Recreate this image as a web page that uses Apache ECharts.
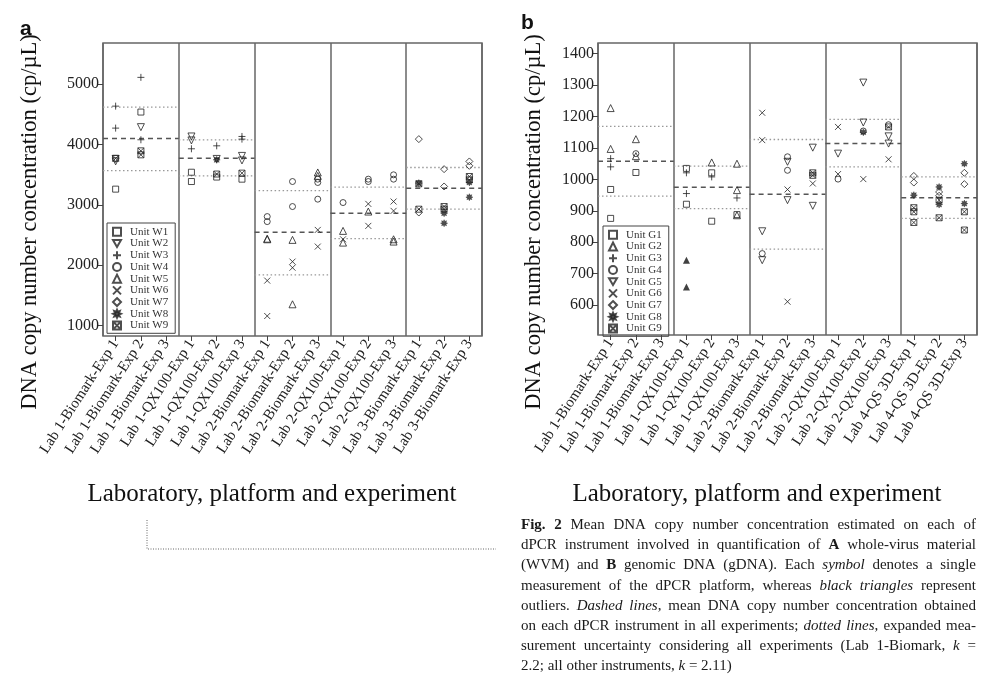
<!DOCTYPE html>
<html><head><meta charset="utf-8">
<script src="https://cdn.jsdelivr.net/npm/echarts@6/dist/echarts.min.js"></script>
<style>html,body{margin:0;padding:0;background:#fff}#c{width:994px;height:678px}</style>
</head><body><div id="c"></div>
<script>
// ---------------- DATA ----------------
const categoriesA = ['Lab 1-Biomark-Exp 1','Lab 1-Biomark-Exp 2','Lab 1-Biomark-Exp 3','Lab 1-QX100-Exp 1','Lab 1-QX100-Exp 2','Lab 1-QX100-Exp 3','Lab 2-Biomark-Exp 1','Lab 2-Biomark-Exp 2','Lab 2-Biomark-Exp 3','Lab 2-QX100-Exp 1','Lab 2-QX100-Exp 2','Lab 2-QX100-Exp 3','Lab 3-Biomark-Exp 1','Lab 3-Biomark-Exp 2','Lab 3-Biomark-Exp 3'];
const categoriesB = ['Lab 1-Biomark-Exp 1','Lab 1-Biomark-Exp 2','Lab 1-Biomark-Exp 3','Lab 1-QX100-Exp 1','Lab 1-QX100-Exp 2','Lab 1-QX100-Exp 3','Lab 2-Biomark-Exp 1','Lab 2-Biomark-Exp 2','Lab 2-Biomark-Exp 3','Lab 2-QX100-Exp 1','Lab 2-QX100-Exp 2','Lab 2-QX100-Exp 3','Lab 4-QS 3D-Exp 1','Lab 4-QS 3D-Exp 2','Lab 4-QS 3D-Exp 3'];
const yTicksA = [1000, 2000, 3000, 4000, 5000];
const yTicksB = [600, 700, 800, 900, 1000, 1100, 1200, 1300, 1400];

// panel a: [category index, copies/uL]
const unitW1 = [[0,3260],[1,4536],[3,3540],[3,3386],[4,3460],[5,3425]];
const unitW2 = [[0,3760],[0,3720],[1,4286],[3,4132],[3,4066],[4,3760],[5,3810],[5,3735]];
const unitW3 = [[0,4634],[0,4270],[1,5110],[1,4077],[3,3928],[4,3977],[5,4132],[5,4088]];
const unitW4 = [[6,2806],[6,2723],[7,3386],[7,2972],[8,3425],[8,3370],[8,3094],[9,3038],[10,3425],[10,3386],[11,3497],[11,3425]];
const unitW5 = [[6,2430],[6,2440],[7,2420],[7,1354],[8,3536],[8,3480],[9,2569],[9,2375],[10,2889],[11,2430],[11,2392]];
const unitW6 = [[6,1746],[6,1160],[7,2060],[7,1960],[8,2585],[8,2309],[9,2430],[10,3016],[10,2652],[11,3055],[11,2900]];
const unitW7 = [[12,4088],[12,2873],[13,3591],[13,3304],[14,3718],[14,3646]];
const unitW8 = [[4,3745],[12,3360],[13,2862],[13,2696],[14,3370],[14,3127]];
const unitW9 = [[0,3770],[1,3894],[1,3828],[4,3510],[5,3525],[12,3348],[12,2928],[13,2972],[13,2928],[14,3469],[14,3414]];
const meanA  = [4098, 3772, 2547, 2862, 3276];
const upperA = [4617, 4076, 3237, 3292, 3618];
const lowerA = [3568, 3480, 1840, 2442, 2928];

// panel b
const unitG1 = [[0,968],[0,876],[1,1022],[3,1035],[3,921],[4,1021],[4,867],[5,888]];
const unitG2 = [[0,1227],[0,1097],[1,1128],[1,1074],[4,1054],[5,1050],[5,966],[5,886]];
const unitG3 = [[0,1066],[0,1040],[3,1021],[3,955],[4,1008],[5,941]];
const unitG4 = [[1,1082],[6,764],[7,1072],[7,1029],[9,1001],[10,1154],[11,1174]];
const unitG5 = [[6,835],[6,743],[7,1056],[7,934],[8,1101],[8,916],[9,1082],[10,1308],[10,1181],[11,1137],[11,1114]];
const unitG6 = [[6,1212],[6,1125],[7,968],[7,611],[8,987],[9,1167],[9,1017],[10,1001],[11,1064]];
const unitG7 = [[12,1011],[12,990],[13,960],[13,948],[14,1021],[14,985]];
const unitG8 = [[10,1150],[12,950],[13,976],[13,920],[14,1050],[14,923]];
const unitG9 = [[8,1021],[8,1013],[11,1167],[12,910],[12,897],[12,863],[13,934],[13,878],[14,897],[14,839]];
const outliersB = [[3,743],[3,658]];
const meanB  = [1058, 975, 953, 1114, 942];
const upperB = [1169, 1042, 1127, 1191, 1008];
const lowerB = [947, 907, 778, 1040, 876];

// ---------------- STYLE ----------------
const SERIF = '"Liberation Serif","Times New Roman",serif';
const SANS = '"Liberation Sans",Arial,sans-serif';
const INK = '#222';
const FRAME = '#666';

function starPath(n, r1, r2) {
  let d = '';
  for (let i = 0; i < 2 * n; i++) {
    const r = i % 2 ? r2 : r1;
    const a = Math.PI * i / n - Math.PI / 2;
    d += (i ? 'L' : 'M') + (5 + r * Math.cos(a)).toFixed(2) + ',' + (5 + r * Math.sin(a)).toFixed(2);
  }
  return 'path://' + d + 'Z';
}
const SYM = {
  square: {s: 'rect', size: 6, fill: false},
  down: {s: 'path://M0,0L10,0L5,8.66Z', size: 7, fill: false},
  up: {s: 'triangle', size: 7, fill: false},
  plus: {s: 'path://M5,0L5,10M0,5L10,5', size: 7, fill: false},
  circle: {s: 'circle', size: 6, fill: false},
  cross: {s: 'path://M0,0L10,10M10,0L0,10', size: 6, fill: false},
  diamond: {s: 'diamond', size: 7, fill: false},
  star: {s: starPath(8, 5, 2.8), size: 7, fill: true},
  boxx: {s: 'path://M0,0L10,0L10,10L0,10ZM0,0L10,10M10,0L0,10', size: 6, fill: false}
};

const unitsA = [['Unit W1',unitW1,'square'],['Unit W2',unitW2,'down'],['Unit W3',unitW3,'plus'],['Unit W4',unitW4,'circle'],['Unit W5',unitW5,'up'],['Unit W6',unitW6,'cross'],['Unit W7',unitW7,'diamond'],['Unit W8',unitW8,'star'],['Unit W9',unitW9,'boxx']];
const unitsB = [['Unit G1',unitG1,'square'],['Unit G2',unitG2,'up'],['Unit G3',unitG3,'plus'],['Unit G4',unitG4,'circle'],['Unit G5',unitG5,'down'],['Unit G6',unitG6,'cross'],['Unit G7',unitG7,'diamond'],['Unit G8',unitG8,'star'],['Unit G9',unitG9,'boxx']];

function scatterSeries(units, xi, yi) {
  return units.map(([name, data, key]) => {
    const m = SYM[key];
    return {
      name, type: 'scatter', xAxisIndex: xi, yAxisIndex: yi, data,
      symbol: m.s, symbolSize: m.size, z: 3,
      itemStyle: {color: m.fill ? INK : 'rgba(0,0,0,0)', borderColor: INK, borderWidth: m.fill ? 0.5 : 1}
    };
  });
}
function segSeries(vals, dash, color, width, xi, yi) {
  return vals.map((v, k) => ({
    type: 'line', xAxisIndex: xi, yAxisIndex: yi, data: [[3 * k, v], [3 * k + 3, v]],
    symbol: 'none', silent: true, z: 2,
    lineStyle: {type: dash, color, width}
  }));
}

const gridA = {left: 103, top: 43, width: 379, height: 293};
const gridB = {left: 598, top: 43, width: 379, height: 292};

function catAxis(gi, data) {
  return {
    type: 'category', gridIndex: gi, data, boundaryGap: true,
    axisLine: {show: false},
    axisTick: {show: true, alignWithLabel: true, length: 5, lineStyle: {color: '#444', width: 1}},
    axisLabel: {interval: 0, rotate: 57, fontFamily: SERIF, fontSize: 15, color: INK, margin: 5},
    splitLine: {show: false}
  };
}
function sectionAxis(gi) {
  return {
    type: 'value', gridIndex: gi, min: 0, max: 15, interval: 3, position: 'top',
    axisLine: {show: false}, axisTick: {show: false}, axisLabel: {show: false},
    splitLine: {show: true, lineStyle: {color: FRAME, width: 1.5}}
  };
}
function valAxis(gi, min, max, ticks) {
  return {
    type: 'value', gridIndex: gi, min, max,
    axisLine: {show: false},
    axisTick: {show: true, length: 5, customValues: ticks, lineStyle: {color: '#444'}},
    axisLabel: {customValues: ticks, formatter: v => String(Math.round(v)), fontFamily: SERIF, fontSize: 16, color: INK, margin: 4},
    splitLine: {show: false}
  };
}
function legendFor(units, left, top) {
  return {
    data: units.map(u => u[0]), orient: 'vertical', left, top,
    itemWidth: 8, itemHeight: 8, itemGap: 0, padding: [3, 7, 2, 5],
    borderColor: '#444', borderWidth: 1, selectedMode: false,
    textStyle: {fontFamily: SERIF, fontSize: 11, lineHeight: 11.7, color: '#333', padding: [0, 0, 0, 4]}
  };
}

// ---------------- CAPTION (justified) ----------------
const captionLines = [
  [['Fig. 2', 'bold'], ['  Mean DNA copy number concentration estimated on each of', '']],
  [['dPCR instrument involved in quantification of ', ''], ['A', 'bold'], [' whole-virus material', '']],
  [['(WVM) and ', ''], ['B', 'bold'], [' genomic DNA (gDNA). Each ', ''], ['symbol', 'italic'], [' denotes a single', '']],
  [['measurement of the dPCR platform, whereas ', ''], ['black triangles', 'italic'], [' represent', '']],
  [['outliers. ', ''], ['Dashed lines', 'italic'], [', mean DNA copy number concentration obtained', '']],
  [['on each dPCR instrument in all experiments; ', ''], ['dotted lines', 'italic'], [', expanded mea-', '']],
  [['surement uncertainty considering all experiments (Lab 1-Biomark, ', ''], ['k', 'italic'], [' =', '']],
  [['2.2; all other instruments, ', ''], ['k', 'italic'], [' = 2.11)', '']]
];
const CAP = {left: 521, right: 976, top: 525, step: 20.2, size: 15};
const ctx = document.createElement('canvas').getContext('2d');
function fontStr(st) { return (st ? st + ' ' : '') + CAP.size + 'px ' + SERIF; }
function measure(t, st) { ctx.font = fontStr(st); return ctx.measureText(t).width; }
const captionGraphics = [];
captionLines.forEach((segs, li) => {
  const words = []; let cur = [];
  segs.forEach(([txt, st]) => {
    let buf = '';
    for (const ch of txt) {
      if (ch === ' ') {
        if (buf) { cur.push([buf, st]); buf = ''; }
        if (cur.length) { words.push(cur); cur = []; }
      } else buf += ch;
    }
    if (buf) cur.push([buf, st]);
  });
  if (cur.length) words.push(cur);
  const widths = words.map(w => w.reduce((s, [t, st]) => s + measure(t, st), 0));
  const total = widths.reduce((a, b) => a + b, 0);
  const last = li === captionLines.length - 1;
  const gap = last ? measure(' ', '') : (CAP.right - CAP.left - total) / (words.length - 1);
  let x = CAP.left;
  const y = CAP.top + li * CAP.step;
  words.forEach((w, wi) => {
    let xx = x;
    w.forEach(([t, st]) => {
      captionGraphics.push({type: 'text', x: xx, y, silent: true,
        style: {text: t, font: fontStr(st), fill: '#1a1a1a', verticalAlign: 'middle', align: 'left'}});
      xx += measure(t, st);
    });
    x += widths[wi] + gap;
  });
});

// ---------------- OPTION ----------------
const option = {
  animation: false,
  backgroundColor: '#fff',
  grid: [
    Object.assign({show: true, borderColor: FRAME, borderWidth: 1.5, outerBoundsMode: 'none'}, gridA),
    Object.assign({show: true, borderColor: FRAME, borderWidth: 1.5, outerBoundsMode: 'none'}, gridB)
  ],
  xAxis: [catAxis(0, categoriesA), sectionAxis(0), catAxis(1, categoriesB), sectionAxis(1)],
  yAxis: [valAxis(0, 829, 5679, yTicksA), valAxis(1, 505, 1434, yTicksB)],
  legend: [legendFor(unitsA, 107, 223), legendFor(unitsB, 603, 226)],
  series: [].concat(
    segSeries(meanA, [5, 4], '#555', 1.5, 1, 0),
    segSeries(upperA, [1.5, 2.5], '#999', 1.3, 1, 0),
    segSeries(lowerA, [1.5, 2.5], '#999', 1.3, 1, 0),
    segSeries(meanB, [5, 4], '#555', 1.5, 3, 1),
    segSeries(upperB, [1.5, 2.5], '#999', 1.3, 3, 1),
    segSeries(lowerB, [1.5, 2.5], '#999', 1.3, 3, 1),
    scatterSeries(unitsA, 0, 0),
    scatterSeries(unitsB, 2, 1),
    [{name: 'Outliers', type: 'scatter', xAxisIndex: 2, yAxisIndex: 1, data: outliersB,
      symbol: 'triangle', symbolSize: 7, z: 3, itemStyle: {color: '#111'}}]
  ),
  graphic: [
    {type: 'text', x: 20, y: 29, style: {text: 'a', font: 'bold 21px ' + SANS, fill: '#111', verticalAlign: 'middle'}},
    {type: 'text', x: 521, y: 23, style: {text: 'b', font: 'bold 21px ' + SANS, fill: '#111', verticalAlign: 'middle'}},
    {type: 'text', x: 30, y: 222, rotation: Math.PI / 2,
      style: {text: 'DNA copy number concentration (cp/µL)', font: '22.5px ' + SERIF, fill: '#111', align: 'center', verticalAlign: 'middle'}},
    {type: 'text', x: 534, y: 222, rotation: Math.PI / 2,
      style: {text: 'DNA copy number concentration (cp/µL)', font: '22.5px ' + SERIF, fill: '#111', align: 'center', verticalAlign: 'middle'}},
    {type: 'text', x: 272, y: 494,
      style: {text: 'Laboratory, platform and experiment', font: '25px ' + SERIF, fill: '#111', align: 'center', verticalAlign: 'middle'}},
    {type: 'text', x: 757, y: 494,
      style: {text: 'Laboratory, platform and experiment', font: '25px ' + SERIF, fill: '#111', align: 'center', verticalAlign: 'middle'}},
    {type: 'polyline', silent: true, shape: {points: [[147, 520], [147, 549], [496, 549]]},
      style: {stroke: '#666', lineWidth: 1, lineDash: [1, 1.5], fill: null}}
  ].concat(captionGraphics)
};
const chart = echarts.init(document.getElementById('c'));
chart.setOption(option);
</script></body></html>
